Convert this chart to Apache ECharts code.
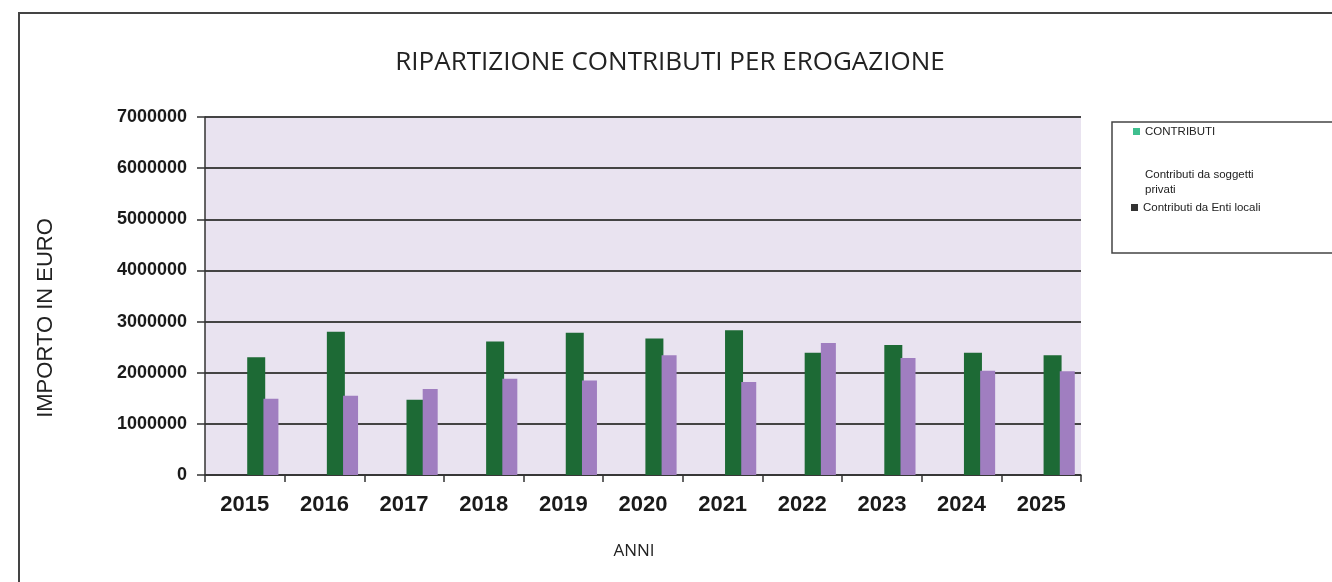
<!DOCTYPE html>
<html>
<head>
<meta charset="utf-8">
<script src="https://cdn.jsdelivr.net/npm/echarts@6/dist/echarts.min.js"></script>
<style>html,body{margin:0;padding:0;background:#fff}#c{width:1332px;height:582px}</style>
</head>
<body>
<div id="c"></div>
<script>
var categories = ['2015','2016','2017','2018','2019','2020','2021','2022','2023','2024','2025'];
var contributi = [2300000, 2800000, 1470000, 2610000, 2780000, 2670000, 2830000, 2390000, 2540000, 2390000, 2340000];
var soggettiPrivati = [null, null, null, null, null, null, null, null, null, null, null];
var entiLocali = [1490000, 1550000, 1680000, 1880000, 1850000, 2340000, 1820000, 2580000, 2290000, 2040000, 2030000];
var yTicks = [0, 1000000, 2000000, 3000000, 4000000, 5000000, 6000000, 7000000];

var chart = echarts.init(document.getElementById('c'), null, {renderer: 'canvas'});
var legendText = {fontFamily: 'Liberation Sans', fontSize: 11.5, color: '#222', lineHeight: 15};
function mkLegend(name, color, top, left) {
  return {
    orient: 'vertical', left: left, top: top, padding: 0,
    itemWidth: 7, itemHeight: 7, itemGap: 0, icon: 'rect', selectedMode: false,
    textStyle: legendText,
    formatter: function (n) { return n === 'Contributi da soggetti privati' ? 'Contributi da soggetti\nprivati' : n; },
    data: [{name: name, itemStyle: {color: color}}]
  };
}
chart.setOption({
  animation: false,
  title: {
    text: 'RIPARTIZIONE CONTRIBUTI PER EROGAZIONE',
    left: 665, top: 45, textAlign: 'center',
    textStyle: {fontFamily: 'Open Sans', fontWeight: 'normal', fontSize: 26, color: '#222'}
  },
  graphic: [
    {type: 'rect', shape: {x: 19, y: 13, width: 1400, height: 600}, style: {fill: 'none', stroke: '#444', lineWidth: 2}, silent: true, z: 100},
    {type: 'rect', shape: {x: 1112, y: 122, width: 230, height: 131}, style: {fill: 'none', stroke: '#444', lineWidth: 1.5}, silent: true, z: 100}
  ],
  legend: [
    mkLegend('CONTRIBUTI', '#3fbf8f', 124, 1133),
    mkLegend('Contributi da soggetti privati', 'rgba(255,255,255,0)', 167, 1133),
    mkLegend('Contributi da Enti locali', '#333333', 200, 1131)
  ],
  grid: {left: 205, right: 251, top: 117, bottom: 107, show: true, backgroundColor: '#e9e3f0', borderWidth: 0},
  xAxis: {
    type: 'category', data: categories,
    name: 'ANNI', nameLocation: 'middle', nameGap: 68,
    nameTextStyle: {fontFamily: 'Open Sans', fontSize: 17, color: '#222', padding: [0, 18, 0, 0]},
    axisLine: {lineStyle: {color: '#333', width: 1.5}},
    axisTick: {show: true, alignWithLabel: false, length: 7, lineStyle: {color: '#333', width: 1.5}},
    axisLabel: {fontFamily: 'Liberation Sans', fontWeight: 'bold', fontSize: 22, color: '#1a1a1a', margin: 19}
  },
  yAxis: {
    type: 'value', min: 0, max: 7000000, interval: 1000000,
    name: 'IMPORTO IN EURO', nameLocation: 'middle', nameGap: 148, nameRotate: 90,
    nameTextStyle: {fontFamily: 'Liberation Sans', fontSize: 22, color: '#222', padding: [0, 44, 0, 0]},
    axisLine: {show: true, lineStyle: {color: '#333', width: 1.5}},
    axisTick: {show: true, length: 8, lineStyle: {color: '#333', width: 1.5}},
    axisLabel: {fontFamily: 'Liberation Sans', fontWeight: 'bold', fontSize: 18, color: '#1a1a1a', margin: 18,
      formatter: function (v) { return yTicks.indexOf(v) >= 0 ? String(v) : ''; }},
    splitLine: {show: true, lineStyle: {color: '#444', width: 2}}
  },
  series: [
    {name: 'Contributi da soggetti privati', type: 'bar', data: soggettiPrivati, barWidth: 40, barGap: '-10%', itemStyle: {color: '#ffffff'}},
    {name: 'CONTRIBUTI', type: 'bar', data: contributi, barWidth: 18, barGap: '-10%', itemStyle: {color: '#1d6a35'}},
    {name: 'Contributi da Enti locali', type: 'bar', data: entiLocali, barWidth: 15, barGap: '-10%', itemStyle: {color: '#a07ec0'}}
  ]
});
</script>
</body>
</html>
